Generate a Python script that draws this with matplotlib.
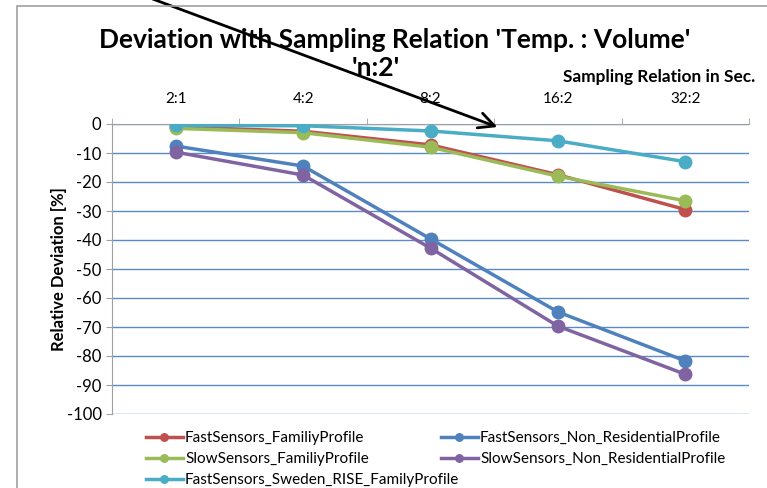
import numpy as np
import matplotlib.pyplot as plt
from matplotlib.patches import Rectangle

# datos
categorias = ['2:1', '4:2', '8:2', '16:2', '32:2']
fast_family = [-1.0, -2.5, -7.2, -17.5, -29.5]
fast_nonres = [-7.6, -14.5, -39.6, -64.8, -81.7]
slow_family = [-1.5, -3.0, -8.0, -18.0, -26.5]
slow_nonres = [-9.7, -17.6, -42.8, -69.7, -86.3]
fast_sweden = [-0.5, -0.6, -2.4, -5.8, -13.0]

series = [
    ('FastSensors_FamiliyProfile', fast_family, '#C0504D'),
    ('FastSensors_Non_ResidentialProfile', fast_nonres, '#4F81BD'),
    ('SlowSensors_FamiliyProfile', slow_family, '#9BBB59'),
    ('SlowSensors_Non_ResidentialProfile', slow_nonres, '#8064A2'),
    ('FastSensors_Sweden_RISE_FamilyProfile', fast_sweden, '#4BACC6'),
]

plt.rcParams['axes.unicode_minus'] = False
fuente = ['Lato', 'DejaVu Sans']
plt.rcParams['font.family'] = fuente

fig = plt.figure(figsize=(7.67, 4.88), dpi=100)
ax = fig.add_axes([112/767, 1-414/488, (749-112)/767, (414-124)/488])

x = np.arange(len(categorias))
lineas = {}
for nombre, vals, col in series:
    l, = ax.plot(x, vals, '-o', color=col, lw=2.5, ms=9, label=nombre, zorder=3)
    lineas[nombre] = l

ax.set_xlim(-0.5, len(categorias) - 0.5)
ax.set_ylim(-100, 0)
ax.set_yticks(np.arange(-100, 1, 10))
ax.yaxis.grid(True, color='#5B8BC6', lw=1.0)
ax.set_axisbelow(True)

# eje x arriba
ax.xaxis.tick_top()
ax.set_xticks(x)
ax.set_xticklabels(categorias, fontsize=11)
ax.tick_params(axis='x', length=0, pad=13)
ax.set_xticks(np.arange(-0.5, len(categorias)), minor=True)
ax.tick_params(axis='x', which='minor', top=True, bottom=False, length=4, color='#A0A0A0')
ax.tick_params(axis='y', length=4, color='#A0A0A0', labelsize=12)

for s in ['right', 'bottom']:
    ax.spines[s].set_visible(False)
for s in ['left', 'top']:
    ax.spines[s].set_color('#A0A0A0')

ax.set_ylabel('Relative Deviation [%]', fontsize=12, fontweight='bold', labelpad=0)

fig.text(0.515, 1-40/488, "Deviation with Sampling Relation 'Temp. : Volume'",
         ha='center', va='center', fontsize=19, fontweight='bold')
fig.text(0.49, 1-68/488, "'n:2'", ha='center', va='center', fontsize=19,
         fontweight='bold')
fig.text(755/767, 1-77/488, 'Sampling Relation in Sec.', ha='right', va='center',
         fontsize=12.4, fontweight='bold')

# leyenda: dos columnas colocadas a mano
opts = dict(loc='upper left', frameon=False, prop={'size': 11}, handlelength=2.4,
            handletextpad=0.15, labelspacing=0.45, markerscale=0.6, borderaxespad=0)
col1 = [series[i] for i in (0, 2, 4)]
col2 = [series[i] for i in (1, 3)]
fig.legend([lineas[s[0]] for s in col1], [s[0] for s in col1],
           bbox_to_anchor=(140/767, 1-425/488), **opts)
fig.legend([lineas[s[0]] for s in col2], [s[0] for s in col2],
           bbox_to_anchor=(435/767, 1-425/488), **opts)

# marco exterior
fig.patches.append(Rectangle((17/767, -0.1), 1.2, 1-6/488+0.1, transform=fig.transFigure,
                             fill=False, ec='#A0A0A0', lw=1.2))

# flecha
ax.annotate('', xy=(500, 488-128), xycoords='figure pixels',
            xytext=(150, 488+2), textcoords='figure pixels',
            arrowprops=dict(arrowstyle='->', color='black', lw=2, mutation_scale=28),
            annotation_clip=False)

fig.savefig('out.png', dpi=100)
